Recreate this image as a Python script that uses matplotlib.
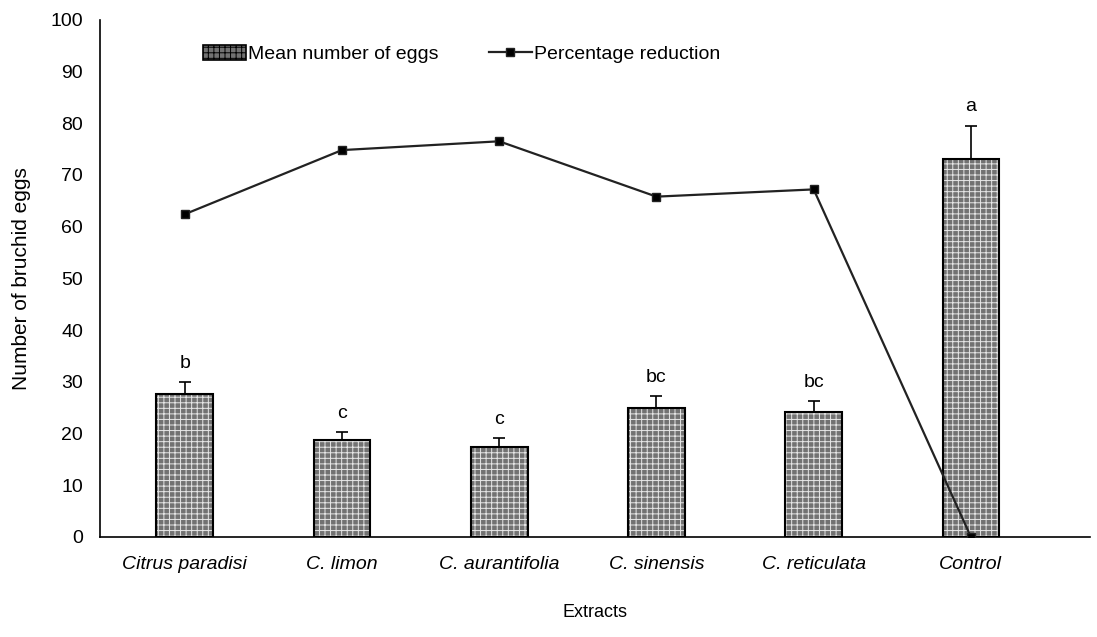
import matplotlib.pyplot as plt
from matplotlib.patches import Patch
from matplotlib.lines import Line2D
import numpy as np

extracts = ['Citrus paradisi', 'C. limon', 'C. aurantifolia', 'C. sinensis', 'C. reticulata', 'Control']
mean_eggs = [27.6, 18.7, 17.4, 25.0, 24.1, 73.1]
egg_err = [2.3, 1.6, 1.7, 2.2, 2.1, 6.4]
letters = ['b', 'c', 'c', 'bc', 'bc', 'a']
pct_reduction = [62.4, 74.8, 76.5, 65.8, 67.2, 0.0]

plt.rcParams['font.family'] = ['Liberation Sans', 'DejaVu Sans']
plt.rcParams['hatch.linewidth'] = 0.7


def main():
    fig = plt.figure(figsize=(10.97, 6.37), dpi=100)
    ax = fig.add_axes([0.091, 0.157, 0.903, 0.812])
    x = np.arange(len(extracts))

    # textured bars: grey fill with light hatch, then black outline on top
    ax.bar(x, mean_eggs, width=0.36, color='#727272', edgecolor='#e6e6e6',
           hatch='+++', linewidth=0, zorder=2)
    ax.bar(x, mean_eggs, width=0.36, fill=False, edgecolor='black',
           linewidth=1.5, zorder=3)
    ax.errorbar(x, mean_eggs, yerr=[np.zeros(len(x)), egg_err], fmt='none',
                ecolor='black', elinewidth=1.2, capsize=4, capthick=1.2, zorder=3)
    for xi, m, e, lab in zip(x, mean_eggs, egg_err, letters):
        ax.text(xi, m + e + 2, lab, ha='center', va='bottom', fontsize=14)

    ax.plot(x, pct_reduction, color='#222222', linewidth=1.6, marker='s',
            markersize=6, markerfacecolor='black', zorder=4)

    ax.set_xlim(-0.54, 5.76)
    ax.set_ylim(0, 100)
    ax.set_yticks(range(0, 101, 10))
    ax.set_xticks(x)
    ax.set_xticklabels(extracts, fontsize=14, style='italic')
    ax.tick_params(axis='y', labelsize=14, length=0, pad=12)
    ax.tick_params(axis='x', length=0, pad=14)
    ax.spines['top'].set_visible(False)
    ax.spines['right'].set_visible(False)
    ax.spines['left'].set_linewidth(1.2)
    ax.spines['bottom'].set_linewidth(1.2)

    ax.set_xlabel('Extracts', fontsize=13, labelpad=22)
    ax.set_ylabel('Number of bruchid eggs', fontsize=15, labelpad=14)

    handles = [Patch(facecolor='#727272', edgecolor='black', hatch='+++', linewidth=1.2),
               Line2D([0], [0], color='#222222', linewidth=1.6, marker='s',
                      markersize=6, markerfacecolor='black')]
    ax.legend(handles, ['Mean number of eggs', 'Percentage reduction'],
              loc='upper center', bbox_to_anchor=(0.365, 0.985), ncol=2,
              frameon=False, fontsize=14, columnspacing=2.6,
              handlelength=2.2, handleheight=0.8, handletextpad=0.1)

    fig.savefig('out.png', dpi=100)


if __name__ == '__main__':
    main()
